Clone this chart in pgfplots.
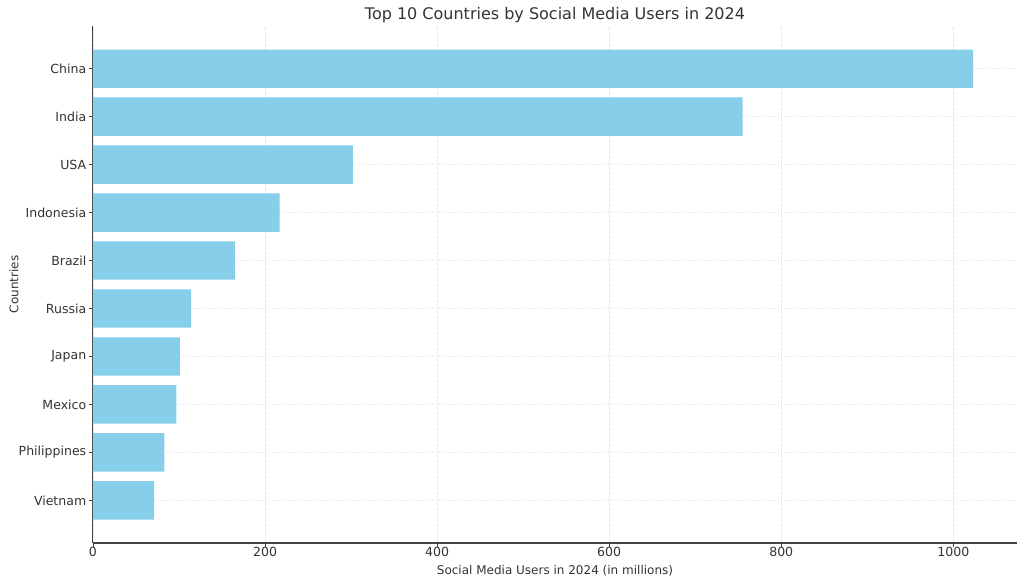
\documentclass[border=0pt]{standalone}
\usepackage{pgfplots}
\pgfplotsset{compat=1.18}
\usepackage{fontspec}
\setmainfont{DejaVu Sans}

\definecolor{barblue}{HTML}{87CEEB}
\definecolor{txt}{HTML}{333333}
\definecolor{spine}{HTML}{444444}
\definecolor{gridc}{HTML}{E2DAEA}
\definecolor{gridv}{HTML}{E8E2EE}

\pgfplotstableread{
pos country users
0 Vietnam 71
1 Philippines 83
2 Mexico 97
3 Japan 101
4 Russia 114
5 Brazil 165
6 Indonesia 217
7 USA 302
8 India 755
9 China 1023
}\usersdata

\begin{document}
\begin{tikzpicture}[x=0.75pt,y=0.75pt]
\begin{axis}[
  scale only axis,
  width=693pt, height=387.75pt,
  xmin=0, xmax=1074,
  ymin=-0.89, ymax=9.89,
  xbar, bar width=0.8,
  xtick={0,200,...,1000},
  ytick={0,...,9},
  yticklabels={Vietnam,Philippines,Mexico,Japan,Russia,Brazil,Indonesia,USA,India,China},
  axis x line*=bottom, axis y line*=left,
  axis line style={spine, line width=0.8pt},
  tick align=outside, major tick length=3pt,
  tick style={spine, line width=0.6pt},
  every tick label/.append style={font=\fontsize{9.4}{11}\selectfont, text=txt},
  yticklabel style={xshift=1.5pt},
  xticklabel style={yshift=3.5pt},
  /pgf/number format/assume math mode=true,
  /pgf/number format/1000 sep={},
  scaled x ticks=false,
  xmajorgrids, ymajorgrids,
  x grid style={gridv, dash pattern=on 3pt off 1pt, line width=0.5pt},
  y grid style={gridc, dotted, line width=0.7pt},
  title={Top 10 Countries by Social Media Users in 2024},
  title style={font=\fontsize{12}{14}\selectfont, text=txt, yshift=-7pt},
  xlabel={Social Media Users in 2024 (in millions)},
  ylabel={Countries},
  xlabel style={font=\fontsize{9}{11}\selectfont, text=txt, at={(rel axis cs:0.5,-0.0348)}, anchor=north},
  ylabel style={font=\fontsize{9}{11}\selectfont, text=txt, at={(rel axis cs:-0.0855,0.5)}, anchor=center},
  clip=false,
]
\addplot[fill=barblue, draw=none] table[x=users, y=pos] {\usersdata};
\coordinate (bbl) at (rel axis cs:-0.1006,-0.0754);
\coordinate (btr) at (rel axis cs:1.00758,1.0503);
\end{axis}
\pgfresetboundingbox
\path[use as bounding box] (bbl) rectangle (btr);
\end{tikzpicture}
\end{document}
